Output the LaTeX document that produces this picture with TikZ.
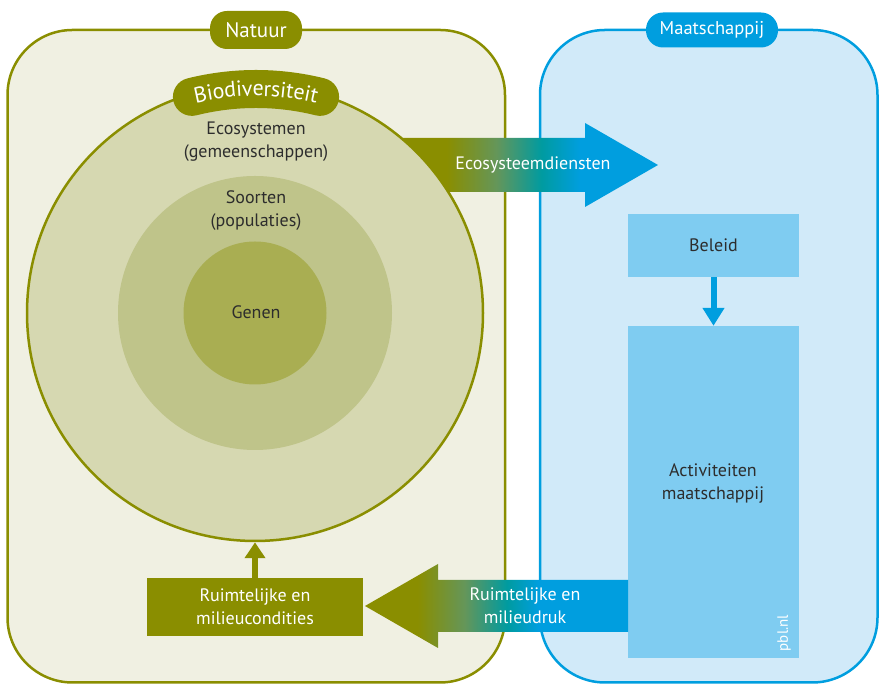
\documentclass[tikz,border=0pt]{standalone}
\usepackage{fontspec}
\setmainfont{PT Sans}
\usetikzlibrary{arrows.meta,decorations.text}
\definecolor{olv}{RGB}{138,142,0}
\definecolor{natbg}{RGB}{240,240,226}
\definecolor{cone}{RGB}{214,216,177}
\definecolor{ctwo}{RGB}{191,196,138}
\definecolor{cthree}{RGB}{169,174,82}
\definecolor{blu}{RGB}{0,158,223}
\definecolor{mbg}{RGB}{209,234,249}
\definecolor{boxc}{RGB}{127,204,241}
\definecolor{txt}{RGB}{45,45,45}
\definecolor{tealc}{RGB}{0,155,160}
\definecolor{midg}{RGB}{100,150,90}
\pgfdeclarehorizontalshading{gradtop}{100bp}{color(0bp)=(olv); color(37bp)=(olv); color(46bp)=(midg); color(54bp)=(tealc); color(61bp)=(blu); color(100bp)=(blu)}
\pgfdeclarehorizontalshading{gradbot}{100bp}{color(0bp)=(olv); color(35bp)=(olv); color(44bp)=(midg); color(52bp)=(tealc); color(58bp)=(blu); color(100bp)=(blu)}
\tikzset{
  panel/.style={rounded corners=65pt, line width=2.5pt},
  tab/.style={rounded corners=17pt, text=white, inner sep=0pt},
  lbl/.style={text=txt, align=center, font=\fontsize{18}{23}\selectfont},
  wlbl/.style={text=white, align=center, font=\fontsize{18}{23}\selectfont},
  bluebox/.style={fill=boxc, inner sep=0pt},
}
\begin{document}
\begin{tikzpicture}[x=1pt,y=1pt]
\useasboundingbox (0,0) rectangle (879,684);
% panels
\draw[panel, fill=natbg, draw=olv] (7.5,1.5) rectangle (505,654);
\draw[panel, fill=mbg, draw=blu] (540,1.5) rectangle (877.5,654);
% tabs
\node[tab, fill=olv, minimum width=92pt, minimum height=38pt, font=\fontsize{21}{21}\selectfont] (natuur) at (256,654) {Natuur};
\node[tab, fill=blu, minimum width=132pt, minimum height=35pt, font=\fontsize{18.5}{18.5}\selectfont] (maats) at (712,654) {Maatschappij};
% ecosystem services arrow
\shade[shading=gradtop] (380,546) -- (585,546) -- (585,561) -- (658,519) -- (585,477) -- (585,492) -- (380,492) -- cycle;
\node[wlbl] (eco) at (533,519) {Ecosysteemdiensten};
% circles
\node[circle, fill=cone, draw=olv, line width=2.5pt, minimum size=456pt, inner sep=0pt] (big) at (255,371) {};
\node[circle, fill=ctwo, minimum size=274pt, inner sep=0pt] (mid) at (255,371) {};
\node[circle, fill=cthree, minimum size=143pt, inner sep=0pt] (inner) at (255,371) {};
% banner
\draw[olv, line width=38pt, line cap=round] (256,330) ++(104:265) arc (104:76:265);
\path[decorate, decoration={text along path, text align=center, raise=-7pt,
  text={|\fontsize{22}{22}\selectfont\color{white}|Biodiversiteit}}]
  (256,330) ++(112:265) arc (112:68:265);
% labels
\node[lbl] (ecos) at (256,542.5) {Ecosystemen\\(gemeenschappen)};
\node[lbl] (soort) at (256,473) {Soorten\\(populaties)};
\node[lbl] (genen) at (256,372) {Genen};
% society boxes
\node[bluebox, minimum width=171pt, minimum height=63pt] (beleid) at (713.5,438.5) {};
\node[lbl] at (beleid.center) {Beleid};
\node[bluebox, minimum width=171pt, minimum height=332pt] (activ) at (713.5,192) {};
\node[lbl] (activlbl) at (713,200) {Activiteiten\\maatschappij};
\node[text=white, rotate=90, font=\fontsize{15}{15}\selectfont] (pbl) at (784,51) {pbl.nl};
\draw[blu, line width=6pt, -{Triangle[width=21pt,length=18pt]}] (beleid.south) -- (activ.north);
% pressure arrow
\shade[shading=gradbot] (628,104) -- (438,104) -- (438,120) -- (365,78) -- (438,36) -- (438,52) -- (628,52) -- cycle;
\node[wlbl] (druk) at (525,78) {Ruimtelijke en\\milieudruk};
% conditions box
\node[fill=olv, minimum width=216pt, minimum height=58pt, inner sep=0pt] (cond) at (255,77) {};
\node[wlbl] at (cond.center) {Ruimtelijke en\\milieucondities};
\draw[olv, line width=6pt, -{Triangle[width=20pt,length=16pt]}] (cond.north) -- (big.south);
\end{tikzpicture}
\end{document}
